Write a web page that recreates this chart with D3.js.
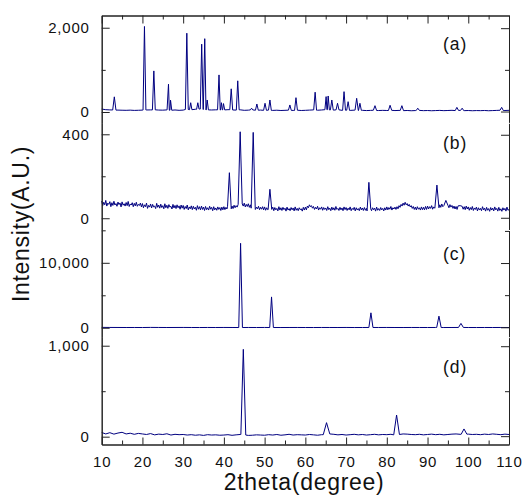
<!DOCTYPE html>
<html>
<head>
<meta charset="utf-8">
<script src="https://cdn.jsdelivr.net/npm/d3@7"></script>
<style>
body { margin: 0; background: #fff; }
text { font-family: "Liberation Sans", Arial, sans-serif; fill: #111; }
</style>
</head>
<body>
<div id="chart"></div>
<script>
// baselines are sampled from 2theta = 10 with the given step (degrees)
var aStep = 1, bStep = 0.25, cStep = 2, dStep = 1;

var aBase = [70,55,50,48,45,42,40,44,38,41,
             45,48,50,52,46,44,50,42,48,40,
             45,60,55,65,70,60,50,48,52,45,
             50,55,48,45,52,40,44,50,42,46,
             40,45,38,42,36,40,44,38,42,36,
             40,45,50,42,48,55,50,45,52,40,
             42,38,44,36,40,34,38,42,35,39,
             36,40,34,38,32,36,30,34,38,32,
             35,30,34,38,32,36,40,34,38,32,
             35,30,34,32,36,30,34,38,42,36,40];

var bBase = [82,60,76,64,85,58,72,66,79,55,74,61,81,63,70,57,77,65,73,54,78,62,69,58,75,60,80,56,68,63,74,55,71,59,76,57,66,61,72,54,
             70,50,64,55,72,47,61,53,68,49,66,54,58,46,71,52,63,48,67,51,60,45,69,50,62,47,65,53,57,44,66,49,61,46,64,50,59,43,63,48,
             61,42,56,46,63,40,54,45,59,41,57,44,52,38,60,43,55,40,58,42,53,37,56,41,50,39,57,43,52,36,55,40,49,38,54,42,51,37,53,40,
             55,41,52,44,57,40,54,45,58,46,62,50,60,53,66,52,70,55,68,58,72,54,66,56,69,52,64,48,58,44,56,42,53,45,57,41,52,43,55,40,
             54,38,50,41,56,37,49,42,53,36,51,40,47,35,55,39,50,37,52,41,48,34,53,39,46,36,51,40,49,35,54,38,47,36,50,41,45,34,52,39,
             53,40,58,50,64,55,60,48,56,42,52,44,57,39,50,43,54,38,51,42,49,37,55,41,48,36,53,40,50,38,56,42,47,37,52,40,49,36,54,41,
             51,37,48,40,54,36,47,41,52,35,50,39,46,36,53,40,49,37,51,38,47,35,52,39,45,36,50,41,48,34,53,38,46,37,51,40,47,35,50,39,
             54,40,51,43,56,39,50,44,53,42,55,45,60,52,66,58,72,62,76,64,70,58,66,54,60,47,56,42,53,40,55,43,50,39,54,41,52,40,56,42,
             58,44,55,47,60,43,54,48,57,45,62,50,64,52,68,55,60,46,57,44,62,50,65,53,61,47,58,44,56,42,59,45,63,48,57,43,55,41,58,44,
             54,38,51,41,56,37,49,42,53,35,50,39,47,36,55,40,48,34,52,38,46,33,51,39,48,35,54,40,47,34,52,37,45,33,50,39,47,34,53,38,
             42];

var cBase = [60,50,45,40,42,38,55,48,40,44,
             50,42,38,45,40,48,42,38,44,40,
             46,40,38,42,45,40,38,44,42,40,
             46,38,40,44,42,48,40,38,45,42,
             40,44,38,42,46,40,38,42,40,44,
             40];

var dBase = [46,30,44,28,40,48,30,38,26,36,
             30,24,34,20,28,24,32,18,26,22,
             24,18,22,16,20,14,22,18,20,16,
             18,22,15,20,24,18,14,16,20,18,
             16,22,18,24,16,20,26,18,22,20,
             18,24,20,16,22,18,30,26,20,24,
             18,22,26,20,24,18,22,26,20,24,
             22,26,20,24,30,28,24,22,26,20,
             24,28,22,26,20,24,28,30,26,22,
             28,24,26,22,28,24,30,26,22,28,24];

// peaks: [2theta, intensity at top, half width at foot]
var aPeaks = [[13.1,360,0.4],[20.5,2030,0.35],[22.8,975,0.35],[26.4,660,0.35],[26.9,280,0.3],
              [30.9,1870,0.35],[31.85,220,0.3],[33.6,220,0.3],[34.55,1610,0.35],[35.3,1740,0.35],
              [35.9,285,0.3],[38.8,880,0.35],[39.4,220,0.3],[39.9,200,0.3],[41.8,550,0.35],
              [43.4,740,0.35],[46.8,90,0.3],[48.1,190,0.35],[50.1,207,0.35],[51.3,285,0.35],
              [56.2,167,0.35],[57.7,340,0.35],[62.4,470,0.35],[65.1,365,0.3],[65.6,380,0.3],
              [66.5,285,0.35],[67.9,207,0.35],[69.5,483,0.35],[70.5,245,0.35],[72.6,325,0.4],
              [73.4,207,0.35],[77.1,150,0.4],[80.8,160,0.4],[83.7,150,0.4],[87.6,90,0.4],
              [97.2,110,0.4],[98.5,90,0.4],[108.2,110,0.4]];
var bPeaks = [[41.35,217,0.45],[44.0,412,0.5],[47.2,409,0.5],[51.3,138,0.45],
              [75.6,171,0.45],[92.3,158,0.5],[94.5,85,0.5],[98.0,60,0.5]];
var cPeaks = [[44.1,13000,0.45],[51.7,4750,0.45],[76.1,2300,0.5],[92.8,1790,0.55],[98.2,670,0.6]];
var dPeaks = [[44.77,960,0.6],[65.2,154,0.8],[82.4,238,0.7],[98.95,85,0.7]];

var xTicks = [10,20,30,40,50,60,70,80,90,100,110];
var xMinor = [15,25,35,45,55,65,75,85,95,105];

var panelNames = ["(a)", "(b)", "(c)", "(d)"];
var yDomains = [[-255, 2290], [-56, 455], [-1460, 15050], [-86, 1093]];
var yMajor = [[0, 2000], [0, 400], [0, 10000], [0, 1000]];
var yMinor = [[1000], [200], [5000, 15000], [500]];

var W = 522, H = 504;
var plotLeft = 101.7, plotRight = 509, plotTop = 15.5, plotBottom = 444.5;
var panelH = (plotBottom - plotTop) / 4;
var labelDy = [34.8, 25.9, 29.6, 35.7];

var svg = d3.select("#chart").append("svg")
    .attr("width", W)
    .attr("height", H);

var x = d3.scaleLinear().domain([10, 110]).range([plotLeft, plotRight]);

function buildSeries(base, step, peaks) {
    function near(v) {
        var i = Math.max(0, Math.min(base.length - 1, Math.round((v - 10) / step)));
        return base[i];
    }
    var pts = [];
    base.forEach(function(v, i) {
        var t = 10 + i * step;
        var inside = peaks.some(function(p) { return Math.abs(t - p[0]) < p[2]; });
        if (!inside) pts.push([t, v]);
    });
    peaks.forEach(function(p) {
        pts.push([p[0] - p[2], near(p[0] - p[2])]);
        pts.push([p[0], p[1]]);
        pts.push([p[0] + p[2], near(p[0] + p[2])]);
    });
    pts.sort(function(a, b) { return a[0] - b[0]; });
    return pts;
}

var series = [
    buildSeries(aBase, aStep, aPeaks),
    buildSeries(bBase, bStep, bPeaks),
    buildSeries(cBase, cStep, cPeaks),
    buildSeries(dBase, dStep, dPeaks)
];

var fmt = d3.format(",");

series.forEach(function(pts, i) {
    var y0 = plotTop + i * panelH, y1 = y0 + panelH;
    var y = d3.scaleLinear().domain(yDomains[i]).range([y1, y0]);
    var g = svg.append("g");

    g.append("path")
        .datum(pts)
        .attr("fill", "none")
        .attr("stroke", "#000080")
        .attr("stroke-width", 1)
        .attr("stroke-linejoin", "round")
        .attr("d", d3.line()
            .x(function(d) { return x(d[0]); })
            .y(function(d) { return y(d[1]); }));

    // left axis, ticks pointing in
    g.append("g")
        .attr("class", "axis")
        .attr("transform", "translate(" + plotLeft + ",0)")
        .call(d3.axisLeft(y).tickValues(yMajor[i]).tickSizeInner(-8).tickSizeOuter(0)
            .tickPadding(12).tickFormat(fmt));
    g.append("g")
        .attr("class", "axis")
        .attr("transform", "translate(" + plotLeft + ",0)")
        .call(d3.axisLeft(y).tickValues(yMinor[i]).tickSizeInner(-4).tickSizeOuter(0)
            .tickFormat(""));

    // right axis, with a small gap between panels
    var yr = y.copy().range([y1 - 0.6, y0 + 0.6]);
    g.append("g")
        .attr("class", "axis")
        .attr("transform", "translate(" + plotRight + ",0)")
        .call(d3.axisRight(yr).tickValues(yMajor[i]).tickSizeInner(-8).tickSizeOuter(0)
            .tickFormat(""));
    g.append("g")
        .attr("class", "axis")
        .attr("transform", "translate(" + plotRight + ",0)")
        .call(d3.axisRight(yr).tickValues(yMinor[i]).tickSizeInner(-4).tickSizeOuter(0)
            .tickFormat(""));

    g.append("text")
        .attr("x", 443)
        .attr("y", y0 + labelDy[i])
        .attr("font-size", 17.5)
        .attr("letter-spacing", 1)
        .text(panelNames[i]);
});

// top and bottom x axes
svg.append("g")
    .attr("class", "axis")
    .attr("transform", "translate(0," + plotTop + ")")
    .call(d3.axisTop(x).tickValues(xTicks).tickSizeInner(-8).tickSizeOuter(0).tickFormat(""));
svg.append("g")
    .attr("class", "axis")
    .attr("transform", "translate(0," + plotTop + ")")
    .call(d3.axisTop(x).tickValues(xMinor).tickSizeInner(-4).tickSizeOuter(0).tickFormat(""));
svg.append("g")
    .attr("class", "axis")
    .attr("transform", "translate(0," + plotBottom + ")")
    .call(d3.axisBottom(x).tickValues(xTicks).tickSizeInner(-7).tickSizeOuter(0)
        .tickPadding(11.5).tickFormat(d3.format("d")));
svg.append("g")
    .attr("class", "axis")
    .attr("transform", "translate(0," + plotBottom + ")")
    .call(d3.axisBottom(x).tickValues(xMinor).tickSizeInner(-4).tickSizeOuter(0).tickFormat(""));

svg.selectAll(".axis path, .axis line").attr("stroke", "#222");
svg.selectAll(".axis text")
    .attr("font-size", 15)
    .attr("letter-spacing", 0.8)
    .attr("fill", "#111")
    .style("font-family", "'Liberation Sans', Arial, sans-serif");

svg.append("text")
    .attr("x", 304)
    .attr("y", 490)
    .attr("text-anchor", "middle")
    .attr("font-size", 23)
    .attr("letter-spacing", 0.7)
    .text("2theta(degree)");

svg.append("text")
    .attr("transform", "translate(29,224) rotate(-90)")
    .attr("text-anchor", "middle")
    .attr("font-size", 23)
    .attr("letter-spacing", 0.7)
    .text("Intensity(A.U.)");
</script>
</body>
</html>
